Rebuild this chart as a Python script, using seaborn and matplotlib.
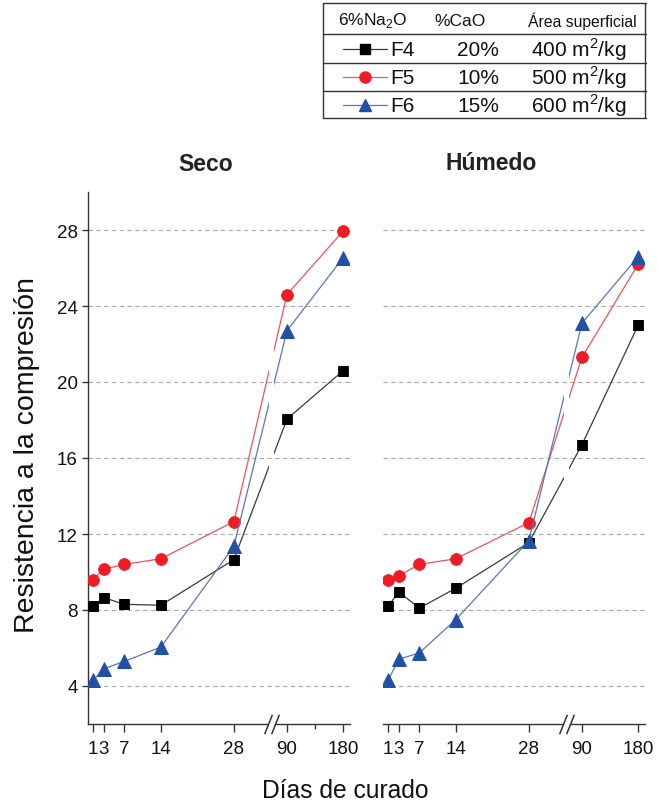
import numpy as np
import matplotlib
matplotlib.use("Agg")
import matplotlib.pyplot as plt
from matplotlib.lines import Line2D
from matplotlib.path import Path
from matplotlib.patches import PathPatch
from matplotlib.transforms import blended_transform_factory
import seaborn as sns

# ---- data -----------------------------------------------------------------
days = [1, 3, 7, 14, 28, 90, 180]
day_labels = ["1", "3", "7", "14", "28", "90", "180"]
mixes = ["F4", "F5", "F6"]
cao = ["20%", "10%", "15%"]
surface = ["400", "500", "600"]

seco_f4 = [8.2, 8.65, 8.3, 8.25, 10.65, 18.05, 20.6]
seco_f5 = [9.6, 10.15, 10.4, 10.7, 12.65, 24.6, 27.95]
seco_f6 = [4.3, 4.9, 5.3, 6.05, 11.35, 22.7, 26.55]
humedo_f4 = [8.2, 8.95, 8.1, 9.15, 11.55, 16.7, 23.0]
humedo_f5 = [9.6, 9.8, 10.4, 10.7, 12.6, 21.3, 26.2]
humedo_f6 = [4.3, 5.4, 5.75, 7.5, 11.65, 23.1, 26.6]

y_ticks = [4, 8, 12, 16, 20, 24, 28]

# ---- styles ---------------------------------------------------------------
line_colors = ["#3a3a3a", "#f2505a", "#5576c4"]
marker_colors = ["#000000", "#ee1c25", "#2250a5"]
markers = ["s", "o", "^"]
marker_sizes = [7.5, 8.5, 9.5]

sns.set_style("ticks")
plt.rcParams["font.family"] = ["Liberation Sans", "DejaVu Sans"]
plt.rcParams["mathtext.fontset"] = "custom"
plt.rcParams["mathtext.rm"] = "Liberation Sans"

W, H = 657, 803
fig = plt.figure(figsize=(W / 100, H / 100), dpi=100)


def fx(x):
    return x / W


def fy(y):
    return 1 - y / H


# broken time axis: linear up to 35 days, compressed after 65 days
BREAK_A, BREAK_B, GAP_U, K = 35.0, 65.0, 0.2, 0.12
x_pts = np.array([-1000.0, BREAK_A, BREAK_B, 1000.0])
u_pts = np.array([-1000.0, BREAK_A, BREAK_A + GAP_U,
                  BREAK_A + GAP_U + (1000.0 - BREAK_B) * K])


def fwd(x):
    return np.interp(x, x_pts, u_pts)


def inv(u):
    return np.interp(u, u_pts, x_pts)


x_max = inv(50.3)
ax_bottom = 78 / H
ax_height = 532 / H
ax1 = fig.add_axes([fx(88), ax_bottom, 262 / W, ax_height])
ax2 = fig.add_axes([fx(383), ax_bottom, 262 / W, ax_height])

panels = [
    (ax1, [seco_f4, seco_f5, seco_f6]),
    (ax2, [humedo_f4, humedo_f5, humedo_f6]),
]

spine_color = "#333333"
for ax, series in panels:
    ax.set_xscale("function", functions=(fwd, inv))
    for vals, lc, mc, mk, ms in zip(series, line_colors, marker_colors,
                                    markers, marker_sizes):
        sns.lineplot(x=days, y=vals, ax=ax, color=lc, linewidth=0.9,
                     marker=mk, markersize=ms, markerfacecolor=mc,
                     markeredgecolor=mc, markeredgewidth=0.6, zorder=3)

    blend = blended_transform_factory(ax.transData, ax.transAxes)
    # lines are interrupted where the time axis is broken
    u_lo, u_hi = 34.8, 35.8
    verts = [(-100, -1), (inv(u_lo), -1), (inv(u_lo), 2), (-100, 2), (-100, -1),
             (inv(u_hi), -1), (1000, -1), (1000, 2), (inv(u_hi), 2), (inv(u_hi), -1)]
    codes = [Path.MOVETO, Path.LINETO, Path.LINETO, Path.LINETO, Path.CLOSEPOLY] * 2
    clip = PathPatch(Path(verts, codes), transform=blend, visible=False)
    ax.add_patch(clip)
    for ln in ax.lines:
        ln.set_clip_path(clip)

    ax.set_xlim(0, x_max)
    ax.set_ylim(2, 30)
    ax.set_xticks(days)
    ax.set_xticklabels(day_labels)
    ax.xaxis.set_minor_locator(matplotlib.ticker.NullLocator())
    ax.set_yticks(y_ticks)
    ax.yaxis.grid(True, linestyle=(0, (4, 3)), color="#a8a8a8", linewidth=0.8)
    ax.set_axisbelow(True)
    ax.set_xlabel("")
    ax.set_ylabel("")
    for s in ["top", "right"]:
        ax.spines[s].set_visible(False)
    ax.spines["bottom"].set_color(spine_color)
    ax.spines["left"].set_color(spine_color)
    ax.spines["bottom"].set_linewidth(1.0)
    ax.spines["left"].set_linewidth(1.0)
    ax.tick_params(axis="both", which="major", direction="out",
                   width=1.0, color=spine_color, labelsize=13.5, pad=3,
                   labelcolor="#111111")
    ax.tick_params(axis="x", which="major", length=6, pad=5.5)
    ax.tick_params(axis="y", which="major", length=4.5)
    ax.tick_params(axis="x", which="minor", direction="out", length=3.5,
                   width=1.0, color=spine_color)

    # break mark on the time axis
    u_l, u_r = 34.65, 35.95
    ax.plot([inv(u_l), inv(u_r)], [0, 0], transform=blend, color="white",
            linewidth=3, clip_on=False, zorder=5, solid_capstyle="butt")
    ax.plot([inv(u_l), inv(u_r)], [0, 0], transform=blend, linestyle="none",
            marker=[(-0.4, -1.0), (0.4, 1.0)], markersize=14,
            markeredgecolor=spine_color, markeredgewidth=1.1,
            clip_on=False, zorder=6)

ax1.set_xticks([135], minor=True)
ax2.spines["left"].set_visible(False)
ax2.tick_params(axis="y", left=False, labelleft=False)

# panel titles and axis labels
fig.text(fx(206), fy(165), "Seco", ha="center", va="center",
         fontsize=16.5, fontweight="bold", color="#222222")
fig.text(fx(491), fy(163), "Húmedo", ha="center", va="center",
         fontsize=16.5, fontweight="bold", color="#222222")
fig.text(fx(345), fy(791), "Días de curado", ha="center", va="center",
         fontsize=17.7, color="#111111")
fig.text(fx(27), fy(455), "Resistencia a la compresión", ha="center",
         va="center", rotation=90, fontsize=20.5, color="#111111")

# legend table
tc = "#333333"
for xv in [323, 645]:
    fig.add_artist(Line2D([fx(xv), fx(xv)], [fy(4), fy(119)], color=tc,
                          linewidth=1.0, transform=fig.transFigure))
for yv in [4, 35, 64, 92, 119]:
    fig.add_artist(Line2D([fx(323), fx(646)], [fy(yv), fy(yv)], color=tc,
                          linewidth=1.0, transform=fig.transFigure))

fig.text(fx(373), fy(21), "6%Na$_\\mathregular{2}$O", ha="center",
         va="center", fontsize=12.5, color="#111111")
fig.text(fx(460), fy(21), "%CaO", ha="center", va="center",
         fontsize=12.5, color="#111111")
fig.text(fx(582), fy(21), "Área superficial", ha="center", va="center",
         fontsize=11.3, color="#111111")

row_y = [50, 78, 106]
for i, (name, c, s) in enumerate(zip(mixes, cao, surface)):
    yy = fy(row_y[i])
    fig.add_artist(Line2D([fx(343), fx(387)], [yy, yy], color=line_colors[i],
                          linewidth=0.9, transform=fig.transFigure))
    fig.add_artist(Line2D([fx(365)], [yy], linestyle="none", marker=markers[i],
                          markersize=marker_sizes[i] - 0.5,
                          markerfacecolor=marker_colors[i],
                          markeredgecolor=marker_colors[i],
                          transform=fig.transFigure))
    fig.text(fx(390), yy, name, ha="left", va="center", fontsize=15,
             color="#111111")
    fig.text(fx(478), yy, c, ha="center", va="center", fontsize=15,
             color="#111111")
    fig.text(fx(579), yy, s + " m$^\\mathregular{2}$/kg", ha="center",
             va="center", fontsize=15, color="#111111")

fig.savefig("out.png", dpi=100)
